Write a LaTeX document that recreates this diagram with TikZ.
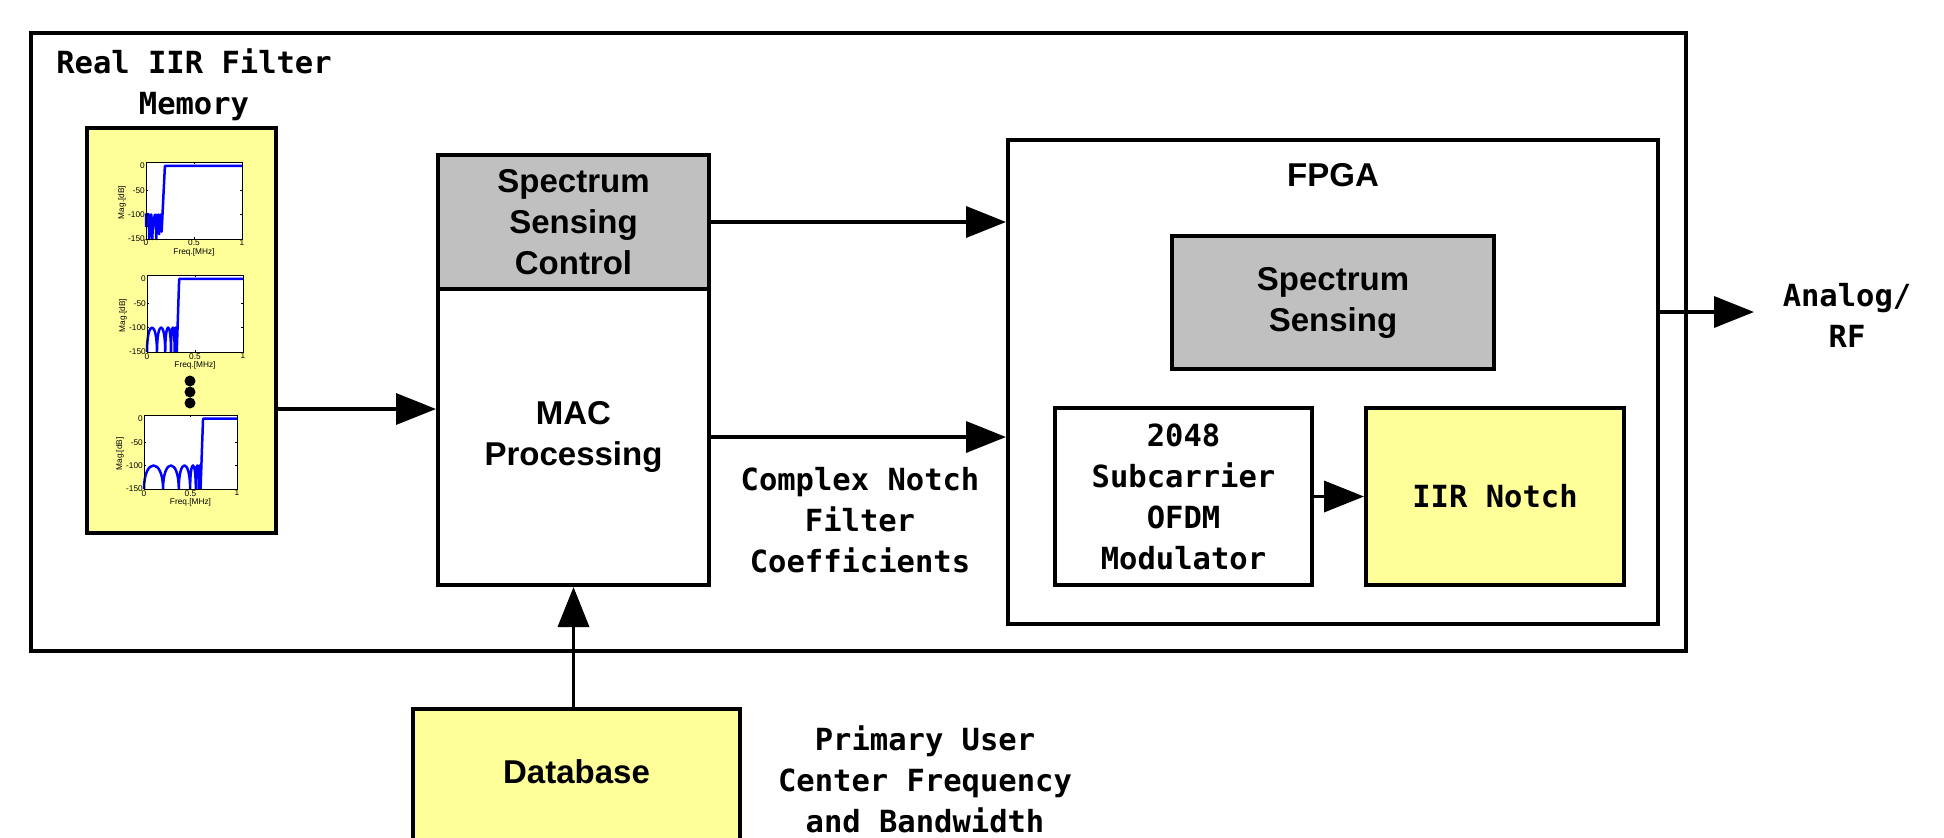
\documentclass[tikz,border=0pt]{standalone}
\usepackage{fontspec}
\setsansfont{Liberation Sans}
\setmonofont{DejaVu Sans Mono}
\usetikzlibrary{arrows.meta}
\definecolor{boxyellow}{RGB}{255,255,153}
\definecolor{boxgray}{RGB}{192,192,192}
\definecolor{plotblue}{RGB}{0,0,255}
\tikzset{
  boxsty/.style={draw, line width=4pt, inner sep=0pt, align=center,
    font=\sffamily\bfseries\fontsize{33}{41}\selectfont},
  monotext/.style={align=center, inner sep=0pt,
    font=\ttfamily\bfseries\fontsize{30.5}{41}\selectfont},
  monobox/.style={boxsty, font=\ttfamily\bfseries\fontsize{30.5}{41}\selectfont},
  arr/.style={line width=3.6pt, -{Triangle[length=40pt,width=31pt]}},
  ticklab/.style={inner sep=1pt, font=\sffamily\fontsize{8.3}{9}\selectfont},
  dotsty/.style={circle, fill=black, inner sep=0pt, minimum size=11pt},
  curve/.style={plotblue, line width=2.5pt, line join=round},
}
\newcommand\magframe{%
  \draw[line width=0.8pt] (0,0) rectangle (1,158);
  \foreach \d in {50,100} {\draw[line width=0.6pt] (0,\d) -- ++(2pt,0) (1,\d) -- ++(-2pt,0);}
  \draw[line width=0.6pt] (0.5,0) -- ++(0,2pt) (0.5,158) -- ++(0,-2pt);
  \node[ticklab, anchor=east] at (0,150) {0};
  \node[ticklab, anchor=east] at (0,100) {-50};
  \node[ticklab, anchor=east] at (0,50) {-100};
  \node[ticklab, anchor=east] at (0,0) {-150};
  \node[ticklab, anchor=north] at (0,0) {0};
  \node[ticklab, anchor=north] at (0.5,0) {0.5};
  \node[ticklab, anchor=north] at (1,0) {1};
  \node[ticklab, anchor=north, yshift=-8pt] at (0.5,0) {Freq.[MHz]};
  \node[ticklab, rotate=90, anchor=south] at ([xshift=-19pt]0,75) {Mag.[dB]};
}
\begin{document}
\begin{tikzpicture}[x=1pt,y=-1pt]
\clip (0,0) rectangle (1944,838);
\fill[white] (0,0) rectangle (1944,838);

% outer system box
\node[draw, line width=4pt, inner sep=0pt, minimum width=1655pt, minimum height=618pt] (sys) at (858.5,342) {};
\node[monotext] (title) at (194,85) {Real IIR Filter\\Memory};

% memory box with plots
\node[draw, line width=4.5pt, fill=boxyellow, inner sep=0pt, minimum width=189pt, minimum height=405pt] (mem) at (181.5,330.5) {};

\begin{scope}[shift={(146,239)}, x=96pt, y=0.4873pt]
  \fill[white] (0,0) rectangle (1,158);
  \draw[curve] (0,25) -- (0,50) .. controls (0.01,52) and (0.02,52) .. (0.03,50)
    .. controls (0.03,30) and (0.032,10) .. (0.034,0)
    .. controls (0.036,20) and (0.05,55) .. (0.055,50)
    .. controls (0.06,30) and (0.065,5) .. (0.066,0)
    .. controls (0.068,30) and (0.09,55) .. (0.1,50)
    .. controls (0.103,30) and (0.106,5) .. (0.108,0)
    .. controls (0.11,40) and (0.125,55) .. (0.13,50)
    .. controls (0.133,30) and (0.135,15) .. (0.137,10)
    .. controls (0.14,40) and (0.15,55) .. (0.16,50)
    -- (0.163,15) -- (0.197,150) -- (1,150);
  \magframe
\end{scope}
\begin{scope}[shift={(147,352)}, x=96pt, y=0.4873pt]
  \fill[white] (0,0) rectangle (1,158);
  \draw[curve] (0,0) .. controls (0,67) and (0.104,67) .. (0.104,0)
    .. controls (0.104,67) and (0.19,67) .. (0.19,0)
    .. controls (0.19,67) and (0.25,67) .. (0.25,0)
    .. controls (0.25,67) and (0.288,67) .. (0.288,0)
    .. controls (0.288,67) and (0.31,67) .. (0.31,0)
    -- (0.335,150) -- (1,150);
  \magframe
\end{scope}
\begin{scope}[shift={(144,489)}, x=93pt, y=0.4684pt]
  \fill[white] (0,0) rectangle (1,158);
  \draw[curve] (0,0) .. controls (0,67) and (0.205,67) .. (0.205,0)
    .. controls (0.205,67) and (0.374,67) .. (0.374,0)
    .. controls (0.374,67) and (0.496,67) .. (0.496,0)
    .. controls (0.496,67) and (0.557,67) .. (0.557,0)
    .. controls (0.557,67) and (0.59,67) .. (0.59,0)
    .. controls (0.59,67) and (0.608,67) .. (0.608,0)
    -- (0.635,150) -- (1,150);
  \magframe
\end{scope}
\node[dotsty] (dot1) at (190,381) {};
\node[dotsty] (dot2) at (190,392) {};
\node[dotsty] (dot3) at (190,403) {};

% MAC block
\node[boxsty, fill=boxgray, minimum width=271pt, minimum height=134pt] (ssc) at (573.5,222) {Spectrum\\Sensing\\Control};
\node[boxsty, fill=white, minimum width=271pt, minimum height=296pt] (macp) at (573.5,437) {MAC\\Processing};

% FPGA block
\node[draw, line width=4pt, inner sep=0pt, minimum width=650pt, minimum height=484pt] (fpga) at (1333,382) {};
\node[inner sep=0pt, font=\sffamily\bfseries\fontsize{33}{41}\selectfont] (fpgalabel) at (1333,175) {FPGA};
\node[boxsty, fill=boxgray, minimum width=322pt, minimum height=133pt] (ssense) at (1333,302.5) {Spectrum\\Sensing};
\node[monobox, fill=white, minimum width=257pt, minimum height=177pt] (ofdm) at (1183.5,496.5) {2048\\Subcarrier\\OFDM\\Modulator};
\node[monobox, fill=boxyellow, minimum width=258pt, minimum height=177pt] (iir) at (1495,496.5) {IIR Notch};

% Database
\node[draw, line width=4pt, fill=boxyellow, inner sep=0pt, minimum width=327pt, minimum height=200pt, anchor=north] (db) at (576.5,707) {};
\node[inner sep=0pt, font=\sffamily\bfseries\fontsize{33}{41}\selectfont] (dbtext) at (576.5,772) {Database};

% labels
\node[monotext] (cnfc) at (860,520) {Complex Notch\\Filter\\Coefficients};
\node[monotext] (puc) at (925,779) {Primary User\\Center Frequency\\and Bandwidth};
\node[monotext] (rf) at (1847,315) {Analog/\\RF};

% connectors
\coordinate (memy) at (0,409);
\coordinate (outtip) at (1754,312);
\draw[arr] (mem.east |- memy) -- (macp.west |- memy);
\draw[arr] (ssc.east) -- (ssc.east -| fpga.west);
\draw[arr] (macp.east) -- (macp.east -| fpga.west);
\draw[arr] (ofdm.east) -- (iir.west);
\draw[arr] (fpga.east |- outtip) -- (outtip);
\draw[arr] (db.north -| macp.south) -- (macp.south);
\end{tikzpicture}
\end{document}
